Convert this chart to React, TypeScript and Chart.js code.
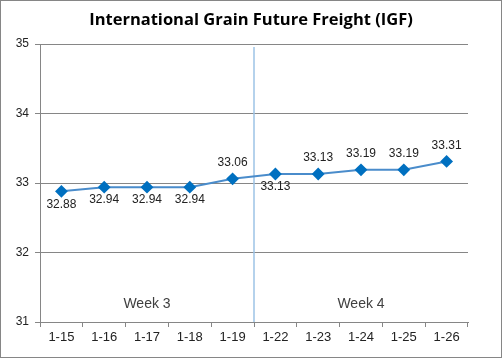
import React, { useEffect, useRef } from "react";
import { Chart, registerables } from "chart.js";

Chart.register(...registerables);

const categories = ["1-15", "1-16", "1-17", "1-18", "1-19", "1-22", "1-23", "1-24", "1-25", "1-26"];
const values = [32.88, 32.94, 32.94, 32.94, 33.06, 33.13, 33.13, 33.19, 33.19, 33.31];
const labelSide = ["below", "below", "below", "below", "above", "below", "above", "above", "above", "above"];
const yTicks = [31, 32, 33, 34, 35];
const weekLabels = ["Week 3", "Week 4"];
const weekCenterIndex = [2, 7];
const weekLabelValue = 31.25;
const dividerAfterIndex = 4;
const titleText = "International Grain Future Freight (IGF)";

const FONT = "'Liberation Sans', Arial, sans-serif";

const decorPlugin = {
  id: "decor",
  beforeDatasetsDraw(chart: any) {
    const { ctx, scales, chartArea } = chart;
    const x = scales.x;
    const y = scales.y;
    const xd = (x.getPixelForValue(dividerAfterIndex) + x.getPixelForValue(dividerAfterIndex + 1)) / 2;
    ctx.save();
    ctx.strokeStyle = "#9DC3E6";
    ctx.lineWidth = 1.5;
    ctx.beginPath();
    ctx.moveTo(xd, chartArea.top + 3);
    ctx.lineTo(xd, chartArea.bottom);
    ctx.stroke();
    ctx.fillStyle = "#404040";
    ctx.font = "14px " + FONT;
    ctx.textAlign = "center";
    ctx.textBaseline = "middle";
    weekLabels.forEach((w, i) => {
      ctx.fillText(w, x.getPixelForValue(weekCenterIndex[i]), y.getPixelForValue(weekLabelValue));
    });
    ctx.restore();
  },
  afterDraw(chart: any) {
    const { ctx, width, height } = chart;
    ctx.save();
    ctx.fillStyle = "#000";
    ctx.font = "bold 16.5px 'Open Sans', " + FONT;
    ctx.textAlign = "center";
    ctx.textBaseline = "middle";
    ctx.fillText(titleText, width / 2, 20);
    const meta = chart.getDatasetMeta(0);
    ctx.font = "12px " + FONT;
    ctx.fillStyle = "#222";
    meta.data.forEach((pt: any, i: number) => {
      const dy = labelSide[i] === "above" ? -16 : 13;
      ctx.fillText(values[i].toFixed(2), pt.x, pt.y + dy);
    });
    ctx.strokeStyle = "#868686";
    ctx.lineWidth = 1;
    ctx.strokeRect(0.5, 0.5, width - 1, height - 1);
    ctx.restore();
  },
};

export default function App() {
  const ref = useRef<HTMLCanvasElement>(null);
  useEffect(() => {
    document.body.style.margin = "0";
    const chart = new Chart(ref.current!, {
      type: "line",
      data: {
        labels: categories,
        datasets: [
          {
            data: values,
            borderColor: "#4A8CCB",
            borderWidth: 2,
            pointStyle: "rectRot",
            pointRadius: 5,
            pointBackgroundColor: "#0070C0",
            pointBorderColor: "#0070C0",
            tension: 0,
          },
        ],
      },
      options: {
        animation: false,
        responsive: false,
        events: [],
        layout: { padding: { top: 44, right: 34, bottom: 0, left: 0 } },
        plugins: { legend: { display: false }, tooltip: { enabled: false }, title: { display: false } },
        scales: {
          x: {
            type: "category",
            offset: true,
            grid: { offset: true, drawOnChartArea: false, tickLength: 5, color: "#868686" },
            border: { display: true, color: "#868686" },
            ticks: { color: "#222", font: { family: FONT, size: 13 }, padding: 3, maxRotation: 0, autoSkip: false },
            afterFit: (s: any) => { s.height = 36; },
          },
          y: {
            min: 31,
            max: 35,
            afterBuildTicks: (s: any) => { s.ticks = yTicks.map((v) => ({ value: v })); },
            grid: { color: "#868686", tickLength: 5 },
            border: { display: true, color: "#868686" },
            ticks: { color: "#222", font: { family: FONT, size: 12 }, padding: 6 },
            afterFit: (s: any) => { s.width = 40; },
          },
        },
      },
      plugins: [decorPlugin],
    });
    return () => chart.destroy();
  }, []);
  return <canvas ref={ref} width={502} height={358} style={{ display: "block" }} />;
}
